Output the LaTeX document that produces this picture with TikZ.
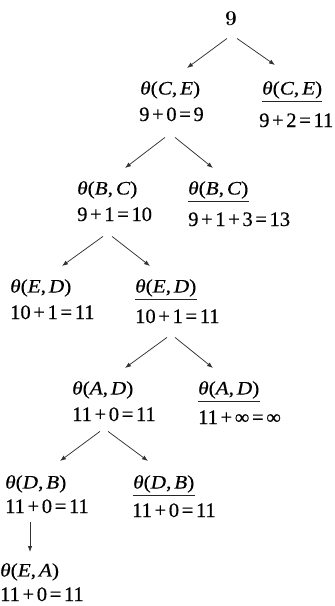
\documentclass[tikz,border=0pt]{standalone}
\usepackage{fontspec}
\usetikzlibrary{arrows.meta}
\newfontfamily\tms{Liberation Serif}[FakeBold=0.4]
\newfontfamily\tmswide{Liberation Serif}[FakeStretch=1.12,FakeBold=0.4]
% theta(X,Y) label and spaced operators for the cost lines
\newcommand\thl[2]{\textit{θ}(\textit{#1},\hspace{0.15em}\textit{#2})}
\newcommand\pls{\hspace{0.13em}+\hspace{0.13em}}
\newcommand\eqs{\hspace{0.13em}=\hspace{0.13em}}
\tikzset{
  lab/.style={anchor=north west, inner sep=0pt, font=\tmswide\fontsize{19}{19}\selectfont},
  val/.style={anchor=base west, inner sep=0pt, font=\tms\fontsize{20.5}{20.5}\selectfont},
  arr/.style={draw=black!80, line width=0.75pt, -{Latex[length=6pt,width=4.5pt]}},
  uline/.style={draw=black!85, line width=0.75pt}
}
\begin{document}
\begin{tikzpicture}[x=1pt,y=-1pt]
\useasboundingbox (0,0) rectangle (335,606);
% root
\node[anchor=base, inner sep=0pt, font=\bfseries\fontsize{21}{21}\selectfont] (root) at (231,25) {9};
% level 1
\node[lab] (ceL) at (140,81) {\thl{C}{E}};
\node[val] (ceLv) at (139,121) {9\pls0\eqs9};
\node[lab] (ceR) at (262,81) {\thl{C}{E}};
\node[val] (ceRv) at (259,127) {9\pls2\eqs11};
% level 2
\node[lab] (bcL) at (77,181) {\thl{B}{C}};
\node[val] (bcLv) at (77,221) {9\pls1\eqs10};
\node[lab] (bcR) at (188,181) {\thl{B}{C}};
\node[val] (bcRv) at (188,226) {9\pls1\pls3\eqs13};
% level 3
\node[lab] (edL) at (10,279) {\thl{E}{D}};
\node[val] (edLv) at (10,319) {10\pls1\eqs11};
\node[lab] (edR) at (135,279) {\thl{E}{D}};
\node[val] (edRv) at (135,323) {10\pls1\eqs11};
% level 4
\node[lab] (adL) at (72,381) {\thl{A}{D}};
\node[val] (adLv) at (72,421) {11\pls0\eqs11};
\node[lab] (adR) at (198,381) {\thl{A}{D}};
\node[val] (adRv) at (198,424) {11\pls∞\eqs∞};
% level 5
\node[lab] (dbL) at (5,475) {\thl{D}{B}};
\node[val] (dbLv) at (5,513) {11\pls0\eqs11};
\node[lab] (dbR) at (133,475) {\thl{D}{B}};
\node[val] (dbRv) at (132,517) {11\pls0\eqs11};
% level 6
\node[lab] (eaL) at (0,563) {\thl{E}{A}};
\node[val] (eaLv) at (0,601) {11\pls0\eqs11};
% bars under the pruned branches
\foreach \n in {ceR,bcR,edR,adR,dbR}
  \draw[uline] ([yshift=-20.5pt]\n.north west) -- ([yshift=-20.5pt]\n.north east);
% connectors
\draw[arr] ([shift={(-4pt,-13pt)}]root.south) -- ([shift={(47pt,13pt)}]ceL.north west);
\draw[arr] ([shift={(6pt,-13pt)}]root.south) -- ([shift={(13pt,16pt)}]ceR.north west);
\draw[arr] ([shift={(26pt,-16pt)}]ceLv.south west) -- ([shift={(48pt,13pt)}]bcL.north west);
\draw[arr] ([shift={(36pt,-16pt)}]ceLv.south west) -- ([shift={(25pt,13pt)}]bcR.north west);
\draw[arr] ([shift={(26pt,-15pt)}]bcLv.south west) -- ([shift={(52pt,13pt)}]edL.north west);
\draw[arr] ([shift={(35pt,-15pt)}]bcLv.south west) -- ([shift={(15pt,13pt)}]edR.north west);
\draw[arr] ([shift={(32pt,-14pt)}]edRv.south west) -- ([shift={(53pt,13pt)}]adL.north west);
\draw[arr] ([shift={(40pt,-14pt)}]edRv.south west) -- ([shift={(15pt,13pt)}]adR.north west);
\draw[arr] ([shift={(28pt,-10pt)}]adLv.south west) -- ([shift={(55pt,14pt)}]dbL.north west);
\draw[arr] ([shift={(36pt,-10pt)}]adLv.south west) -- ([shift={(15pt,14pt)}]dbR.north west);
\draw[arr] ([shift={(25pt,-9pt)}]dbLv.south west) -- ([shift={(30pt,11pt)}]eaL.north west);
\end{tikzpicture}
\end{document}
